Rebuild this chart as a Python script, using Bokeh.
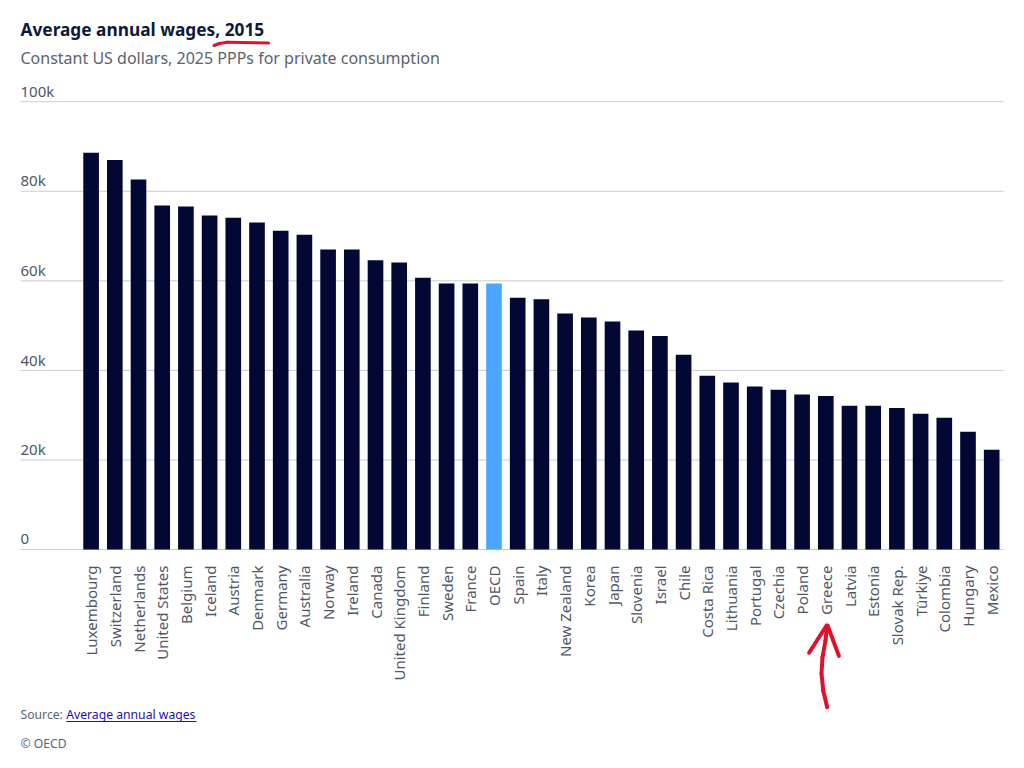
import math
from bokeh.plotting import figure
from bokeh.models import Range1d, Label, Arrow, OpenHead, ColumnDataSource
from bokeh.core.properties import value
from bokeh.embed import file_html
from bokeh.resources import INLINE

countries = ["Luxembourg", "Switzerland", "Netherlands", "United States", "Belgium", "Iceland",
             "Austria", "Denmark", "Germany", "Australia", "Norway", "Ireland", "Canada",
             "United Kingdom", "Finland", "Sweden", "France", "OECD", "Spain", "Italy",
             "New Zealand", "Korea", "Japan", "Slovenia", "Israel", "Chile", "Costa Rica",
             "Lithuania", "Portugal", "Czechia", "Poland", "Greece", "Latvia", "Estonia",
             "Slovak Rep.", "Türkiye", "Colombia", "Hungary", "Mexico"]
wages_k = [88.6, 87.0, 82.6, 76.8, 76.6, 74.6, 74.1, 73.0, 71.2, 70.3, 67.0, 67.0, 64.6,
           64.1, 60.7, 59.4, 59.4, 59.4, 56.2, 55.9, 52.7, 51.8, 50.9, 48.9, 47.7, 43.5, 38.8,
           37.3, 36.4, 35.7, 34.6, 34.3, 32.1, 32.1, 31.6, 30.3, 29.4, 26.3, 22.3]
highlight = "OECD"
y_ticks = [0, 20, 40, 60, 80, 100]
y_tick_labels = ["0", "20k", "40k", "60k", "80k", "100k"]

FONT = "Noto Sans"
BAR = "#020733"
HL = "#4aa6ff"
GRID = "#c9cdd4"
LABEL = "#4f5766"
MUTED = "#5b6372"

W, H = 1016, 760
SX = 23.70          # pixels per category
SY = 4.478          # pixels per 1k
X_START = -90.6 / SX
X_END = X_START + W / SX
Y_END = 549 / SY
Y_START = -(H - 549) / SY
BASE_SHIFT = 0.42   # renderer draws "alphabetic" text this many em lower

def dx(px):
    return X_START + px / SX

def dy(py):
    return (549 - py) / SY

def base(py, fs):
    return dy(py - BASE_SHIFT * fs)

p = figure(width=W, height=H, x_range=Range1d(X_START, X_END), y_range=Range1d(Y_START, Y_END),
           output_backend="svg", toolbar_location=None, tools="",
           x_axis_location=None, y_axis_location=None,
           min_border=0, min_border_left=0, min_border_right=0, min_border_top=0,
           min_border_bottom=0)
p.outline_line_color = None
p.background_fill_color = "white"
p.xgrid.visible = False
p.ygrid.visible = False

# horizontal gridlines at the y ticks
gsrc = ColumnDataSource(dict(x0=[dx(20)] * len(y_ticks), x1=[dx(1003)] * len(y_ticks),
                             y=y_ticks))
p.segment(x0="x0", y0="y", x1="x1", y1="y", source=gsrc, line_color=GRID, line_width=1)

# bars
idx = list(range(len(countries)))
colors = [HL if c == highlight else BAR for c in countries]
src = ColumnDataSource(dict(x=idx, top=wages_k, color=colors, name=countries))
p.vbar(x="x", top="top", bottom=0, width=0.66, fill_color="color", line_color=None, source=src)

# y tick labels sitting above the gridlines (baseline ~4.5px above each line)
tick_fs = 15
tsrc = ColumnDataSource(dict(x=[dx(20)] * len(y_ticks),
                             y=[t + (4.5 + BASE_SHIFT * tick_fs) / SY for t in y_ticks],
                             text=y_tick_labels))
p.text(x="x", y="y", text="text", source=tsrc, text_font=value(FONT),
       text_font_size=f"{tick_fs}px", text_color=LABEL, text_baseline="alphabetic",
       text_align="left")

# category labels, rotated
csrc = ColumnDataSource(dict(x=idx, y=[dy(565)] * len(idx), text=countries))
p.text(x="x", y="y", text="text", source=csrc, angle=math.pi / 2, text_font=value(FONT),
       text_font_size="15px", text_color=LABEL, text_align="right", text_baseline="middle")

# titles
p.add_layout(Label(x=dx(20), y=base(36, 17.3), text="Average annual wages, 2015", text_font=FONT,
                   text_font_size="17.3px", text_font_style="bold", text_color="#0c1a3a",
                   text_baseline="alphabetic"))
p.add_layout(Label(x=dx(20), y=base(64, 16), text="Constant US dollars, 2025 PPPs for private consumption",
                   text_font=FONT, text_font_size="16px", text_color=MUTED,
                   text_baseline="alphabetic"))

RED = "#e0112b"

def stroke(pts, width, head=False):
    n = len(pts)
    for i in range(n - 1):
        (x0, y0), (x1, y1) = pts[i], pts[i + 1]
        end = None
        if head and i == n - 2:
            end = OpenHead(size=30, line_color=RED, line_width=width, line_cap="round")
        p.add_layout(Arrow(x_start=dx(x0), y_start=dy(y0), x_end=dx(x1), y_end=dy(y1), end=end,
                           line_color=RED, line_width=width, line_cap="round"))

# hand-drawn underline under ", 2015"
stroke([(213.5, 45), (219, 43), (227, 41.8), (268, 42.6)], 3)
# hand-drawn arrow pointing at Greece
stroke([(826.7, 706.7), (822.7, 690), (821, 673), (822, 656.7), (825, 640), (826.7, 624)], 4,
       head=True)

# footer
FS = 12.2
p.add_layout(Label(x=dx(20), y=base(719, FS), text="Source:", text_font=FONT,
                   text_font_size=f"{FS}px", text_color=MUTED, text_baseline="alphabetic"))
p.add_layout(Label(x=dx(65.7), y=base(719, FS), text="Average annual wages", text_font=FONT,
                   text_font_size=f"{FS}px", text_color="#1f10b0", text_baseline="alphabetic"))
p.add_layout(Arrow(x_start=dx(65.7), y_start=dy(721), x_end=dx(196), y_end=dy(721), end=None,
                   line_color="#1f10b0", line_width=1))
p.add_layout(Label(x=dx(20), y=base(748, FS), text="© OECD", text_font=FONT,
                   text_font_size=f"{FS}px", text_color=MUTED, text_baseline="alphabetic"))

open("out.html", "w").write(file_html(p, INLINE))
